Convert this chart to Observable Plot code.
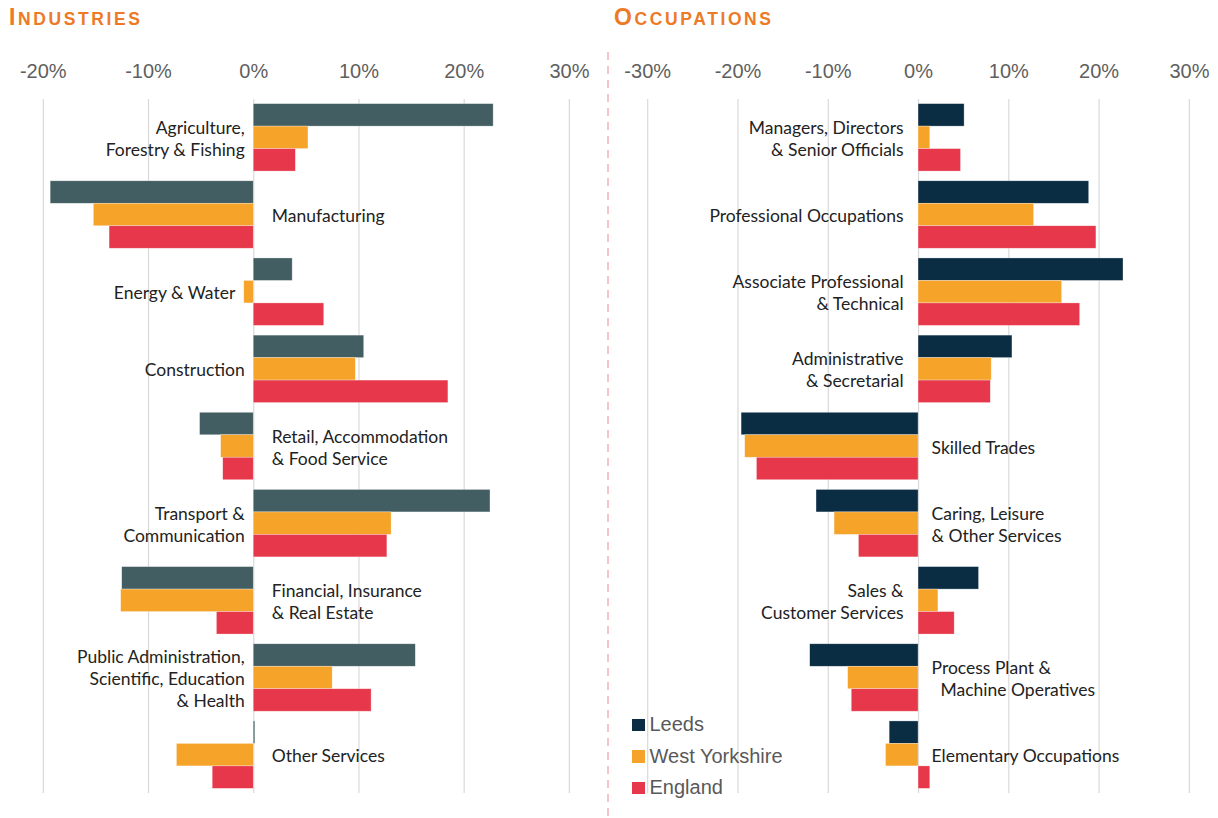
<!DOCTYPE html>
<html><head><meta charset="utf-8">
<script src="https://cdn.jsdelivr.net/npm/d3@7"></script>
<script src="https://cdn.jsdelivr.net/npm/@observablehq/plot@0.6"></script>
<style>
body{margin:0;background:#fff;}
#wrap{position:relative;width:1218px;height:818px;overflow:hidden;font-family:"Liberation Sans",Arial,sans-serif;}
.title{position:absolute;top:4px;color:#EC7A26;font-weight:bold;font-size:23px;letter-spacing:2.6px;line-height:normal;white-space:nowrap;}
.title .sc{font-size:17.5px;}
#left{position:absolute;left:0;top:0;}
#right{position:absolute;left:610px;top:0;}
#sep{position:absolute;left:606px;top:52px;}
#legend{position:absolute;left:632px;top:709px;font-size:20px;color:#595959;}
.item{display:flex;align-items:center;height:31.5px;}
.sw{width:12.5px;height:12.5px;margin-right:5px;}
</style></head>
<body><div id="wrap">
<div class="title" style="left:9px">I<span class="sc">NDUSTRIES</span></div>
<div class="title" style="left:614px">O<span class="sc">CCUPATIONS</span></div>
<div id="left"></div>
<div id="right"></div>
<svg id="sep" width="4" height="766"><line x1="2" x2="2" y1="0" y2="766" stroke="#F5C4C9" stroke-width="2" stroke-dasharray="8 6"/></svg>
<div id="legend"></div>
</div>
<script>
// ---- Data ----
const seriesNames = ["Leeds", "West Yorkshire", "England"];
const industryCategories = [
  "Agriculture,\nForestry & Fishing", "Manufacturing", "Energy & Water", "Construction",
  "Retail, Accommodation\n& Food Service", "Transport &\nCommunication",
  "Financial, Insurance\n& Real Estate", "Public Administration,\nScientific, Education\n& Health",
  "Other Services"
];
const industryLeeds = [22.8, -19.3, 3.7, 10.5, -5.1, 22.5, -12.5, 15.4, 0.15];
const industryWestYorkshire = [5.2, -15.2, -0.9, 9.7, -3.1, 13.1, -12.6, 7.5, -7.3];
const industryEngland = [4.0, -13.7, 6.7, 18.5, -2.9, 12.7, -3.5, 11.2, -3.9];

const occupationCategories = [
  "Managers, Directors\n& Senior Officials", "Professional Occupations",
  "Associate Professional\n& Technical", "Administrative\n& Secretarial", "Skilled Trades",
  "Caring, Leisure\n& Other Services", "Sales &\nCustomer Services",
  "Process Plant &\n\u00a0\u00a0Machine Operatives", "Elementary Occupations"
];
const occupationLeeds = [5.1, 18.9, 22.7, 10.4, -19.6, -11.3, 6.7, -12.0, -3.2];
const occupationWestYorkshire = [1.3, 12.8, 15.9, 8.1, -19.2, -9.3, 2.2, -7.8, -3.6];
const occupationEngland = [4.7, 19.7, 17.9, 8.0, -17.9, -6.6, 4.0, -7.4, 1.3];

const industryTicks = [-20, -10, 0, 10, 20, 30];
const occupationTicks = [-30, -20, -10, 0, 10, 20, 30];

// ---- Styles ----
const colorsIndustries = ["#435E62", "#F5A329", "#E6384A"];
const colorsOccupations = ["#0B2D44", "#F5A329", "#E6384A"];
const labelFont = {fontFamily: "Lato, 'Open Sans', sans-serif", fontSize: 17.5, fill: "#222222", lineHeight: 1.26};

function panel({cats, values, colors, domain, ticks, marginLeft, marginRight, dxLeft, dxRight}) {
  const width = 608, height = 818, marginTop = 99, marginBottom = 25;
  const pi = 0.126, po = 0.06;
  const n = cats.length;
  const step = (height - marginTop - marginBottom) / (n - pi + 2 * po);
  const bw = step * (1 - pi);
  const third = bw / 3;
  const rows = [];
  cats.forEach((c, j) => values.forEach((arr, i) => rows.push({category: c, series: seriesNames[i], si: i, value: arr[j]})));
  const labels = cats.map((c, j) => {
    const vals = values.map(a => a[j]);
    const sum = d3.sum(vals);
    return {category: c, side: sum >= 0 ? "left" : "right", min: Math.min(0, d3.min(vals)), max: 0};
  });
  const barMarks = values.map((arr, i) => Plot.barX(rows.filter(r => r.si === i), {
    x: "value", y: "category", fill: colors[i],
    insetTop: i * third, insetBottom: (2 - i) * third,
    stroke: "#ffffff", strokeOpacity: 0.5, strokeWidth: 0.6
  }));
  return Plot.plot({
    width, height, marginTop, marginBottom, marginLeft, marginRight,
    style: {color: "#595959", fontFamily: "'Liberation Sans', Arial, sans-serif", fontSize: "20px", background: "transparent"},
    x: {domain, ticks, label: null},
    y: {domain: cats, paddingInner: pi, paddingOuter: po, round: false, axis: null, label: null},
    marks: [
      Plot.gridX(ticks, {stroke: "#D9D9D9", strokeOpacity: 1, strokeWidth: 1.2}),
      Plot.axisX(ticks, {anchor: "top", tickSize: 0, tickPadding: 22, tickFormat: d => d + "%", fontSize: 20, fill: "#5F5F5F", label: null}),
      ...barMarks,
      Plot.text(labels.filter(d => d.side === "left"), {
        x: "min", y: "category", text: "category", textAnchor: "end", dx: dxLeft, ...labelFont
      }),
      Plot.text(labels.filter(d => d.side === "right"), {
        x: "max", y: "category", text: "category", textAnchor: "start", dx: dxRight, ...labelFont
      })
    ]
  });
}

document.getElementById("left").append(panel({
  cats: industryCategories,
  values: [industryLeeds, industryWestYorkshire, industryEngland],
  colors: colorsIndustries, domain: [-20, 30], ticks: industryTicks,
  marginLeft: 42.8, marginRight: 39.1, dxLeft: -9, dxRight: 18
}));
document.getElementById("right").append(panel({
  cats: occupationCategories,
  values: [occupationLeeds, occupationWestYorkshire, occupationEngland],
  colors: colorsOccupations, domain: [-30, 30], ticks: occupationTicks,
  marginLeft: 37.2, marginRight: 29.1, dxLeft: -15, dxRight: 13
}));

const legend = document.getElementById("legend");
seriesNames.forEach((s, i) => {
  const it = document.createElement("div");
  it.className = "item";
  it.innerHTML = `<span class="sw" style="background:${colorsOccupations[i]}"></span><span>${s}</span>`;
  legend.append(it);
});
</script>
</body></html>
